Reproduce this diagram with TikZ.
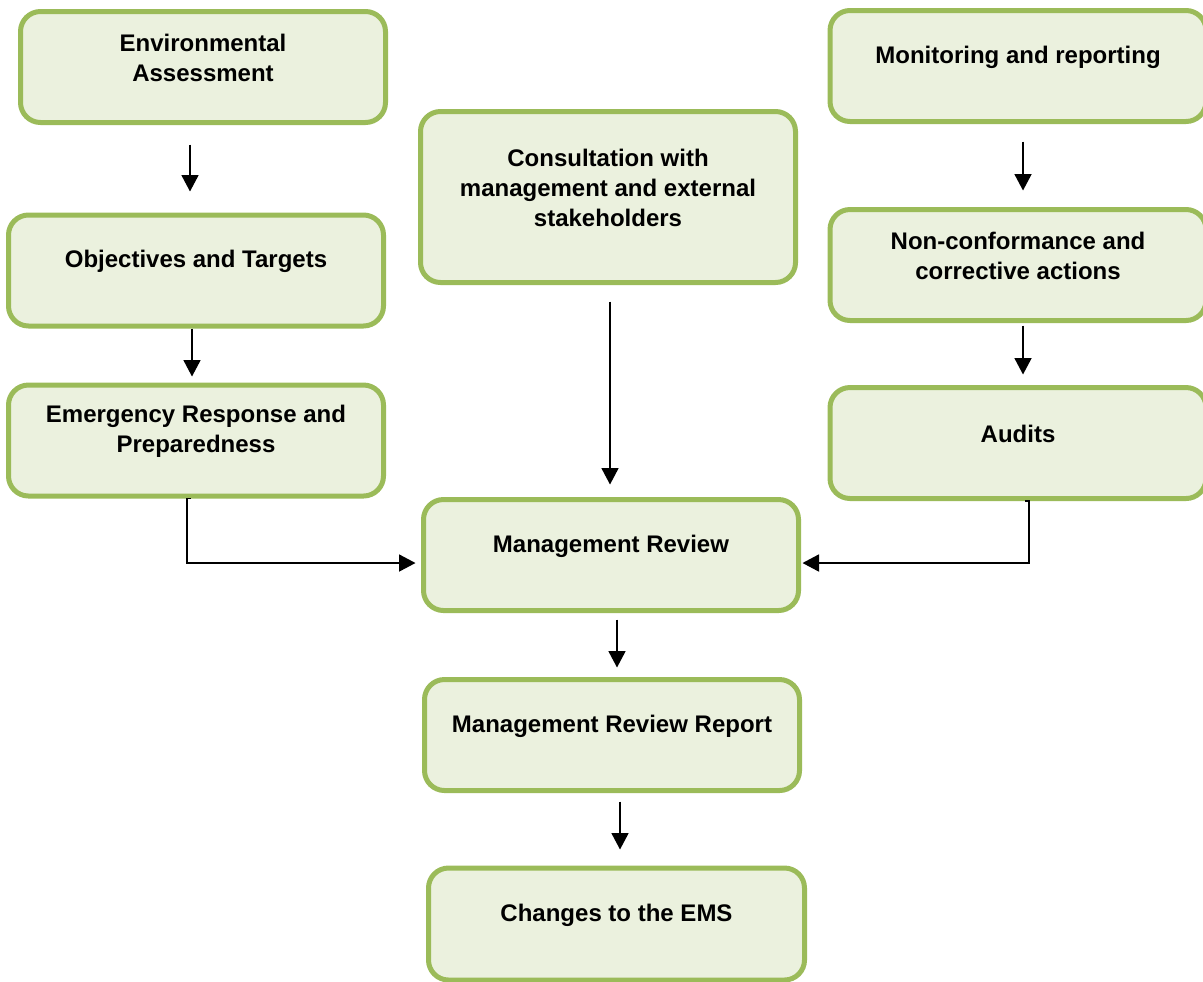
\documentclass[tikz,border=0pt]{standalone}
\usepackage{fontspec}
\setmainfont{Liberation Sans}
\usepackage{xcolor}
\usetikzlibrary{arrows.meta,positioning,calc}
\definecolor{cG}{HTML}{9BBB59}
\definecolor{cL}{HTML}{EBF1DE}
\tikzset{
  box/.style={rounded corners=10pt,draw=cG,line width=2.5pt,fill=cL,
              inner sep=0pt,minimum width=187.5pt,minimum height=55.5pt},
  txt/.style={align=center,yshift=4.5pt,inner sep=0pt,
              font=\fontsize{12}{15}\selectfont\bfseries},
  say/.style={label={[txt]center:{#1}}},
  flow/.style={-{Triangle[length=8.25pt,width=8.5pt]},line width=0.9pt,black},
}

\begin{document}
\begin{tikzpicture}[x=0.5pt,y=-0.5pt]
  \useasboundingbox (0,0) rectangle (1203,981);
  \node[box,minimum width=182.5pt,say={Environmental\\Assessment}](env) at (203,67){};
  \node[box,say={Objectives and Targets}](obj) at (196,270.5){};
  \node[box,say={Emergency Response and\\Preparedness}](emerg) at (196,440.5){};
  \node[box,minimum height=85.5pt,say={Consultation with\\management and external\\stakeholders}](cons) at (608,197){};
  \node[box,minimum width=188pt,say={Monitoring and reporting}](mon) at (1018,66){};
  \node[box,minimum width=188pt,say={Non-conformance and\\corrective actions}](nonc) at (1018,265){};
  \node[box,minimum width=188pt,say={Audits}](aud) at (1018,443){};
  \node[box,say={Management Review}](mrev) at (611,555){};
  \node[box,say={Management Review Report}](mrep) at (612,735){};
  \node[box,minimum width=188pt,minimum height=56pt,say={Changes to the EMS}](chg) at (616.5,924){};
  \draw[flow,shorten <=9.75pt,shorten >=10.5pt]([xshift=-6.5pt]env.south)--([xshift=-3pt]obj.north);
  \draw[flow,shorten >=3pt]([xshift=-2pt]obj.south)--([xshift=-2pt]emerg.north);
  \draw[flow,shorten <=8.25pt,shorten >=6.25pt]([xshift=1pt]cons.south)--([xshift=-0.5pt]mrev.north);
  \draw[flow,shorten <=8.75pt,shorten >=8.25pt]([xshift=2.5pt]mon.south)--([xshift=2.5pt]nonc.north);
  \draw[flow,shorten <=1.25pt,shorten >=5.25pt]([xshift=2.5pt]nonc.south)--([xshift=2.5pt]aud.north);
  \draw[flow,shorten <=3.25pt,shorten >=4.75pt]([xshift=3pt]mrev.south)--([xshift=2.5pt]mrep.north);
  \draw[flow,shorten <=4.25pt,shorten >=8pt]([xshift=4pt]mrep.south)--([xshift=1.75pt]chg.north);
  \draw[flow,shorten >=2.75pt]([xshift=-2.5pt]emerg.south)--([xshift=-4.5pt]emerg.south)|-([yshift=-4pt]mrev.west);
  \draw[flow,shorten >=0.75pt]([xshift=3.5pt]aud.south)--([xshift=5.5pt]aud.south)|-([yshift=-4pt]mrev.east);
\end{tikzpicture}
\end{document}
